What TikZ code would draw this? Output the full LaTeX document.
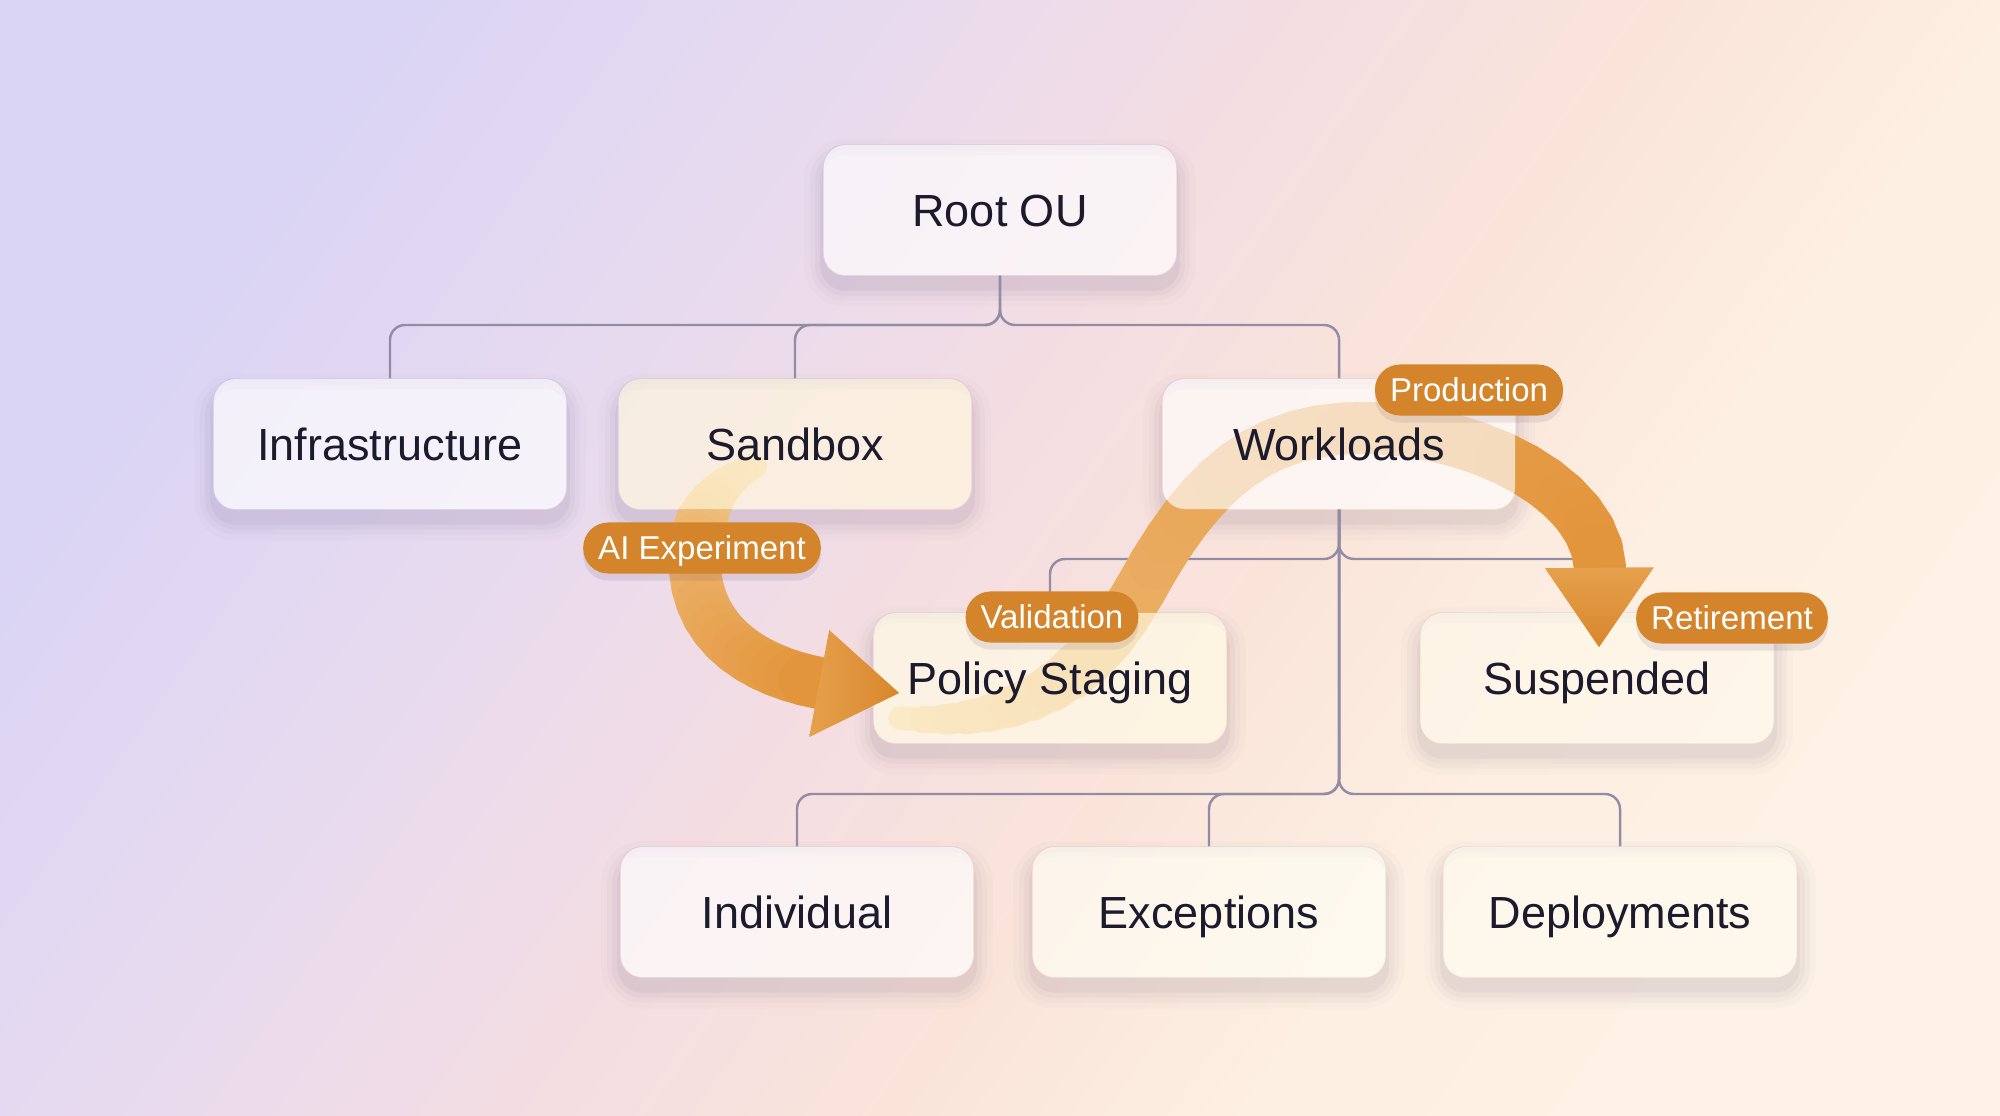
\documentclass[tikz,border=0pt]{standalone}
\usepackage{fontspec}
\setmainfont{Liberation Sans}
\usetikzlibrary{calc,shadows}

% colours
\definecolor{bgLav}{HTML}{DAD4F5}
\definecolor{bgLilac}{HTML}{E6DAF0}
\definecolor{bgPink}{HTML}{F3DDE3}
\definecolor{bgPeach}{HTML}{FAE4DA}
\definecolor{bgCream}{HTML}{FDEFE2}
\definecolor{bgIvory}{HTML}{FDF2E5}
\definecolor{linkGray}{HTML}{928DA5}
\definecolor{ouText}{HTML}{1B1B2D}
\definecolor{shadowTone}{HTML}{5A4A70}
\definecolor{pillOrange}{HTML}{D4842A}
\definecolor{flowLight}{HTML}{F5D09A}
\definecolor{flowOrange}{HTML}{E3953C}
\definecolor{headLight}{HTML}{E6A04C}
\definecolor{headOrange}{HTML}{D8872C}
\definecolor{fillRoot}{HTML}{FFFFFF}
\definecolor{fillInfra}{HTML}{FFFFFF}
\definecolor{fillSand}{HTML}{FFF8DC}
\definecolor{fillWork}{HTML}{FFFFFF}
\definecolor{fillPolicy}{HTML}{FFFDE6}
\definecolor{fillSusp}{HTML}{FFF9EB}
\definecolor{fillIndiv}{HTML}{FFFFFF}
\definecolor{fillExc}{HTML}{FFFFF5}
\definecolor{fillDeploy}{HTML}{FFFBF0}

\pgfdeclarehorizontalshading{bgshade}{100bp}{color(0bp)=(bgLav); color(25bp)=(bgLav);
  color(36bp)=(bgLilac); color(47bp)=(bgPink); color(57bp)=(bgPeach);
  color(66bp)=(bgCream); color(75bp)=(bgIvory); color(100bp)=(bgIvory)}

\pgfdeclarelayer{bg}
\pgfdeclarelayer{flow}
\pgfdeclarelayer{front}
\pgfsetlayers{bg,flow,main,front}

\begin{document}
\begin{tikzpicture}[x=0.01cm, y=-0.01cm,
    oubox/.style={rounded corners=0.22cm, minimum width=3.52cm, minimum height=1.3cm,
      inner sep=0pt, text height=9.2pt, text depth=0pt, fill opacity=0.65, text opacity=1,
      text=ouText, font=\fontsize{12.8}{15}\selectfont},
    pill/.style={fill=pillOrange, text=white, font=\fontsize{9.4}{11}\selectfont,
      rounded corners=0.25cm, minimum height=0.51cm, inner xsep=0.15cm, inner ysep=0pt,
      text height=6.7pt, text depth=0pt,
      general shadow={shadow yshift=-2pt, fill=shadowTone, opacity=.12}},
    oulink/.style={draw=linkGray, line width=0.7pt, rounded corners=0.15cm},
    ribbon/.style={line width=0.52cm, line cap=round},
  ]

  \useasboundingbox (0,0) rectangle (2000,1116);

  % OU boxes
  \node[oubox, fill=fillRoot] (root) at (1000,210) {Root OU};
  \node[oubox, fill=fillInfra] (infra) at (390,444) {Infrastructure};
  \node[oubox, fill=fillSand] (sandbox) at (795,444) {Sandbox};
  \node[oubox, fill=fillWork] (workloads) at (1339,444) {Workloads};
  \node[oubox, fill=fillPolicy] (policy) at (1050,678) {Policy Staging};
  \node[oubox, fill=fillSusp] (suspended) at (1597,678) {Suspended};
  \node[oubox, fill=fillIndiv] (individual) at (797,912) {Individual};
  \node[oubox, fill=fillExc] (exceptions) at (1209,912) {Exceptions};
  \node[oubox, fill=fillDeploy] (deployments) at (1620,912) {Deployments};

  \begin{pgfonlayer}{bg}
    \shade[shading=bgshade, shading angle=-35] (0,0) rectangle (2000,1116);

    % soft shadows round the boxes, the box itself left out
    \foreach \n in {root,infra,sandbox,workloads,policy,suspended,individual,exceptions,deployments}
      \foreach \g/\o/\r in {3/.06/0.25cm, 8/.04/0.30cm, 13/.03/0.35cm, 19/.02/0.41cm}
        \fill[shadowTone, opacity=\o, even odd rule]
          [rounded corners=\r] ($(\n.south west)+(-\g,12+\g)$) rectangle ($(\n.north east)+(\g,14-\g)$)
          [rounded corners=0.22cm] (\n.south west) rectangle (\n.north east);

    \coordinate (busTop) at (0,325);
    \coordinate (busMid) at (0,559);
    \coordinate (busLow) at (0,794);
    \foreach \child in {infra,sandbox,workloads}
      \draw[oulink] (root.south) -- (root.south |- busTop) -| (\child.north);
    \foreach \child in {policy,suspended}
      \draw[oulink] (workloads.south) -- (workloads.south |- busMid) -| (\child.north);
    \foreach \child in {individual,exceptions,deployments}
      \draw[oulink] (workloads.south) -- (workloads.south |- busLow) -| (\child.north);
  \end{pgfonlayer}

  % flow ends
  \coordinate (aiStart) at ($(sandbox)+(-40,22)$);
  \coordinate (aiMid) at (695,570);
  \coordinate (aiBase) at ($(policy.west)+(-54,5)$);
  \coordinate (aiTip) at ($(policy.west)+(26,15)$);
  \coordinate (prodStart) at ($(policy)+(-150,40)$);
  \coordinate (prodMidA) at (1140,590);
  \coordinate (prodMidB) at (1370,428);
  \coordinate (prodBase) at ($(suspended.north)+(3,-45)$);
  \coordinate (prodTip) at ($(suspended.north)+(2,35)$);

  % sample the flow curves
  \path (aiStart) .. controls +(-47,20) and +(-3,-40) .. (aiMid)
    foreach \k in {1,...,12} {coordinate[pos=\k/12] (aiA\k)};
  \path (aiMid) .. controls +(5,70) and +(-58,-11) .. (aiBase)
    foreach \k in {1,...,12} {coordinate[pos=\k/12] (aiB\k)};
  \path (prodStart) .. controls (990,727) and (1080,700) .. (prodMidA)
    foreach \k in {1,...,12} {coordinate[pos=\k/12] (prA\k)};
  \path (prodMidA) .. controls (1200,480) and (1260,425) .. (prodMidB)
    foreach \k in {1,...,12} {coordinate[pos=\k/12] (prB\k)};
  \path (prodMidB) .. controls (1480,430) and (1596,490) .. (prodBase)
    foreach \k in {1,...,12} {coordinate[pos=\k/12] (prC\k)};
  \coordinate (aiA0) at (aiStart);
  \coordinate (aiB0) at (aiMid);
  \coordinate (prA0) at (prodStart);
  \coordinate (prB0) at (prodMidA);
  \coordinate (prC0) at (prodMidB);

  \begin{pgfonlayer}{flow}
    \foreach \k [evaluate=\k as \p using int(\k-1), evaluate=\k as \c using int(100*\k/24),
        evaluate=\k as \w using {min(0.52,0.2+0.04*\k)}] in {1,...,12}
      \draw[ribbon, line width=\w cm, draw=flowOrange!\c!flowLight] (aiA\p) -- (aiA\k);
    \foreach \k [evaluate=\k as \p using int(\k-1), evaluate=\k as \c using int(100*(\k+12)/24)] in {1,...,12}
      \draw[ribbon, draw=flowOrange!\c!flowLight] (aiB\p) -- (aiB\k);

    \foreach \k [evaluate=\k as \p using int(\k-1), evaluate=\k as \c using int(100*sqrt(\k/36)),
        evaluate=\k as \w using {min(0.52,0.2+0.035*\k)}] in {1,...,12}
      \draw[ribbon, line width=\w cm, draw=flowOrange!\c!flowLight] (prA\p) -- (prA\k);
    \foreach \k [evaluate=\k as \p using int(\k-1), evaluate=\k as \c using int(100*sqrt((\k+12)/36))] in {1,...,12}
      \draw[ribbon, draw=flowOrange!\c!flowLight] (prB\p) -- (prB\k);
    \foreach \k [evaluate=\k as \p using int(\k-1), evaluate=\k as \c using int(100*sqrt((\k+24)/36))] in {1,...,12}
      \draw[ribbon, draw=flowOrange!\c!flowLight] (prC\p) -- (prC\k);
  \end{pgfonlayer}

  \begin{pgfonlayer}{front}
    \shade[left color=headLight, right color=headOrange]
      ($(aiBase)+(10,-53)$) -- (aiTip) -- ($(aiBase)+(-10,54)$) -- cycle;
    \shade[top color=headLight, bottom color=headOrange]
      ($(prodBase)+(-55,1)$) -- (prodTip) -- ($(prodBase)+(54,0)$) -- cycle;

    \node[pill] (aiexp) at (702,548) {AI Experiment};
    \node[pill] (valid) at (1052,617) {Validation};
    \node[pill] (prod) at (1469,390) {Production};
    \node[pill] (retire) at (1732,618) {Retirement};
  \end{pgfonlayer}

\end{tikzpicture}
\end{document}
